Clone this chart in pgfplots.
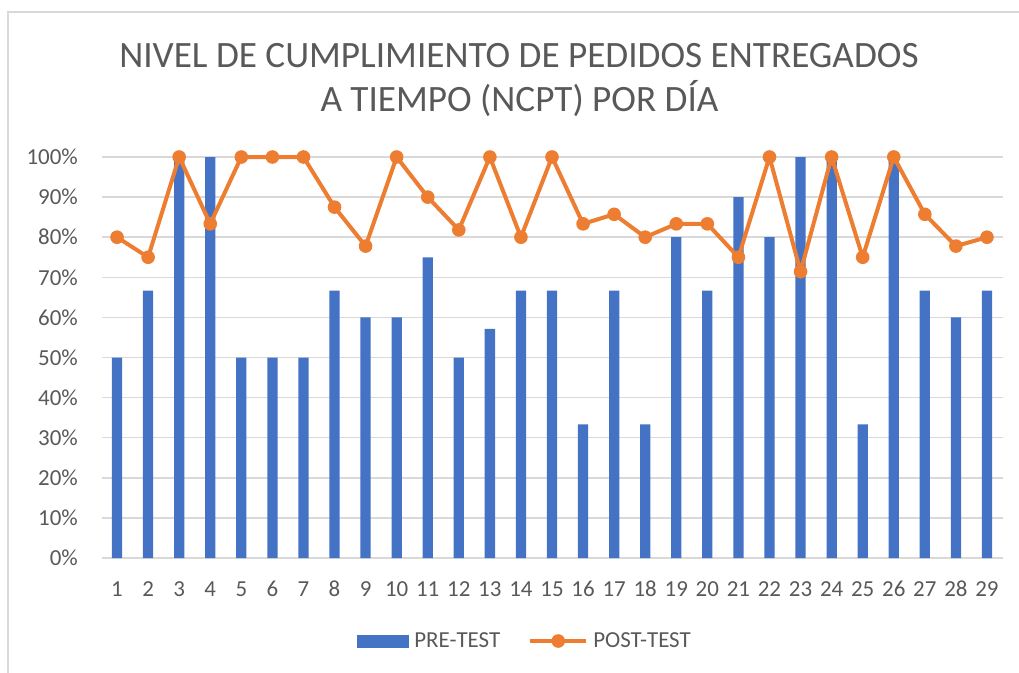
\documentclass[border=0pt]{standalone}
\usepackage{pgfplots}
\pgfplotsset{compat=1.18}
\usepackage{fontspec}
\setmainfont{Carlito}
\definecolor{txt}{HTML}{595959}
\definecolor{gridc}{HTML}{D9D9D9}
\definecolor{barblue}{HTML}{4472C4}
\definecolor{lineor}{HTML}{ED7D31}
\pgfplotsset{
  barlegend/.style={legend image code/.code={\fill[barblue] (0pt,-4.875pt) rectangle (39pt,4.875pt);}},
  linelegend/.style={legend image code/.code={\draw[##1, mark repeat=2, mark phase=2] plot coordinates {(0pt,0pt) (21pt,0pt) (42pt,0pt)};}},
}
\begin{document}
\begin{tikzpicture}
\useasboundingbox (0pt,0pt) rectangle (764.25pt,-504.75pt);
% chart frame (top and left edges visible)
\draw[gridc, line width=1.1pt] (6pt,-520pt) -- (6pt,-9pt) -- (780pt,-9pt);
% title
\node[anchor=base, text=txt, font=\fontsize{27.9}{33}\selectfont, inner sep=0pt] at (389.25pt,-51pt) {NIVEL DE CUMPLIMIENTO DE PEDIDOS ENTREGADOS};
\node[anchor=base, text=txt, font=\fontsize{27.9}{33}\selectfont, inner sep=0pt] at (389.6pt,-84pt) {A TIEMPO (NCPT) POR DÍA};
\begin{axis}[
  at={(76.125pt,-418.5pt)}, anchor=south west,
  scale only axis, width=675.75pt, height=300.75pt,
  xmin=0.5, xmax=29.5, ymin=0, ymax=100,
  clip=false,
  axis line style={draw=none},
  major tick length=0pt,
  xtick={1,...,29},
  ytick={0,10,...,100},
  yticklabels={0\%,10\%,20\%,30\%,40\%,50\%,60\%,70\%,80\%,90\%,100\%},
  /pgf/number format/assume math mode=true,
  ymajorgrids,
  grid style={gridc, line width=1.1pt},
  tick label style={text=txt, font=\fontsize{17.2}{20}\selectfont, inner sep=0pt},
  yticklabel style={anchor=east, xshift=-17.6pt},
  xticklabel style={anchor=base, yshift=-28.5pt},
  legend style={at={(0.469,-0.207)}, anchor=center, draw=none, fill=none,
    font=\fontsize{17.2}{20}\selectfont, text=txt,
    nodes={inner sep=0pt},
    /tikz/every odd column/.append style={column sep=3.75pt},
    /tikz/every even column/.append style={column sep=21pt}},
  legend columns=2,
  legend cell align=left,
]
\addplot[ybar, bar width=7.7pt, fill=barblue, draw=none, barlegend]
coordinates {
(1,50) (2,66.67) (3,100) (4,100) (5,50) (6,50) (7,50) (8,66.67) (9,60) (10,60)
(11,75) (12,50) (13,57.14) (14,66.67) (15,66.67) (16,33.33) (17,66.67) (18,33.33) (19,80) (20,66.67)
(21,90) (22,80) (23,100) (24,100) (25,33.33) (26,100) (27,66.67) (28,60) (29,66.67)
};
\addlegendentry{PRE-TEST}
\addplot[lineor, line width=3pt, mark=*, mark size=4.6pt,
  mark options={fill=lineor, draw=lineor, line width=1pt, solid}, linelegend]
coordinates {
(1,80) (2,75) (3,100) (4,83.33) (5,100) (6,100) (7,100) (8,87.5) (9,77.78) (10,100)
(11,90) (12,81.82) (13,100) (14,80) (15,100) (16,83.33) (17,85.71) (18,80) (19,83.33) (20,83.33)
(21,75) (22,100) (23,71.43) (24,100) (25,75) (26,100) (27,85.71) (28,77.78) (29,80)
};
\addlegendentry{POST-TEST}
\end{axis}
\end{tikzpicture}
\end{document}
